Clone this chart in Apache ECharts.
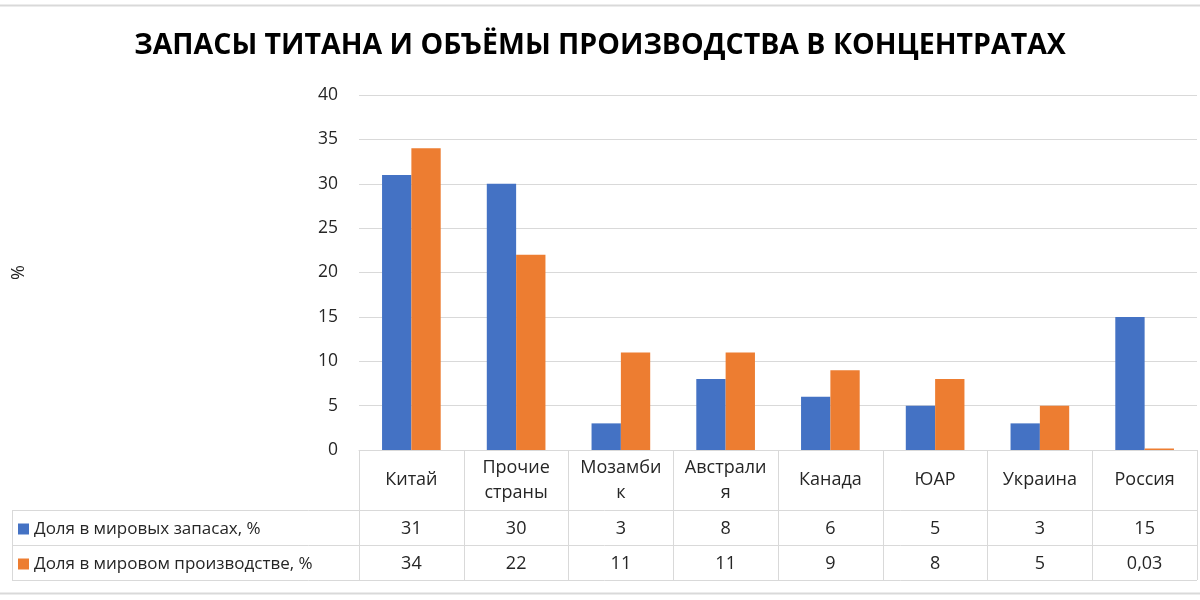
<!DOCTYPE html>
<html>
<head>
<meta charset="utf-8">
<script src="https://cdn.jsdelivr.net/npm/echarts@6/dist/echarts.min.js"></script>
<style>html,body{margin:0;padding:0;background:#fff;}#c{width:1200px;height:600px;}</style>
</head>
<body>
<div id="c"></div>
<script>
const titleText = 'ЗАПАСЫ ТИТАНА И ОБЪЁМЫ ПРОИЗВОДСТВА В КОНЦЕНТРАТАХ';
const categories = ['Китай', 'Прочие страны', 'Мозамбик', 'Австралия', 'Канада', 'ЮАР', 'Украина', 'Россия'];
const seriesNames = ['Доля в мировых запасах, %', 'Доля в мировом производстве, %'];
const reserves = [31, 30, 3, 8, 6, 5, 3, 15];
const production = [34, 22, 11, 11, 9, 8, 5, 0.03];
const yTicks = { min: 0, max: 40, interval: 5 };
const yName = '%';

const FONT = '"Open Sans", sans-serif';
const TXT = '#262626';
const GRIDC = '#d9d9d9';
const CELL_FS = 18;
const fmt = v => String(v).replace('.', ',');

// wrap header text inside a table cell (word wrap, long words broken by characters)
const mctx = document.createElement('canvas').getContext('2d');
mctx.font = CELL_FS + 'px "Open Sans", sans-serif';
const tw = s => mctx.measureText(s).width;
function wrap(s, maxW) {
  const lines = []; let cur = '';
  s.split(' ').forEach(word => {
    const test = cur ? cur + ' ' + word : word;
    if (tw(test) <= maxW) { cur = test; return; }
    if (cur) lines.push(cur);
    let piece = '';
    for (const ch of word) {
      if (piece && tw(piece + ch) > maxW) { lines.push(piece); piece = ch; }
      else piece += ch;
    }
    cur = piece;
  });
  if (cur) lines.push(cur);
  return lines.join('\n');
}

const chart = echarts.init(document.getElementById('c'));
const gridLeft = 359, gridRight = 3, gridTop = 95, gridBottom = 150;

const rowAxis = (data, margin) => ({
  type: 'category', data: data.map(fmt), position: 'bottom', gridIndex: 0,
  axisLine: { show: false }, axisTick: { show: false }, splitLine: { show: false },
  axisLabel: { interval: 0, margin: margin, verticalAlign: 'middle', fontSize: CELL_FS, fontFamily: FONT, color: TXT }
});

chart.setOption({
  animation: false,
  backgroundColor: '#fff',
  title: {
    text: titleText, left: 'center', top: 26,
    textStyle: { fontSize: 28.5, fontWeight: 'bold', fontFamily: FONT, color: '#000' }
  },
  legend: {
    orient: 'vertical', left: 18, top: 519, padding: 0, itemWidth: 11, itemHeight: 11, itemGap: 15,
    icon: 'rect', selectedMode: false,
    textStyle: { fontSize: 17, fontFamily: FONT, color: TXT, lineHeight: 20, padding: [0, 0, 0, 0] },
    data: seriesNames
  },
  grid: { left: gridLeft, right: gridRight, top: gridTop, bottom: gridBottom, containLabel: false },
  xAxis: [
    {
      type: 'category', data: categories, position: 'bottom',
      axisLine: { show: true, lineStyle: { color: GRIDC, width: 1 } },
      axisTick: { show: true, length: 130, interval: 0, lineStyle: { color: GRIDC, width: 1 } },
      axisLabel: {
        interval: 0, margin: 30, verticalAlign: 'middle', fontSize: CELL_FS, fontFamily: FONT, color: TXT,
        lineHeight: 25, align: 'center', formatter: v => wrap(v, 83)
      }
    },
    rowAxis(reserves, 79),
    rowAxis(production, 114)
  ],
  yAxis: {
    type: 'value', min: yTicks.min, max: yTicks.max, interval: yTicks.interval,
    name: yName, nameLocation: 'middle', nameGap: 331, nameRotate: 90,
    nameTextStyle: { fontSize: 18, fontFamily: FONT, color: TXT },
    axisLine: { show: false }, axisTick: { show: false },
    axisLabel: { fontSize: 17.5, fontFamily: FONT, color: TXT, margin: 21 },
    splitLine: { lineStyle: { color: GRIDC, width: 1 } }
  },
  series: [
    { name: seriesNames[0], type: 'bar', data: reserves, xAxisIndex: 0, itemStyle: { color: '#4472C4' }, barGap: '0%', barCategoryGap: '44%' },
    { name: seriesNames[1], type: 'bar', data: production, xAxisIndex: 0, itemStyle: { color: '#ED7D31' }, barGap: '0%', barCategoryGap: '44%', barMinHeight: 1.5 }
  ],
  graphic: [
    { type: 'line', shape: { x1: 0, y1: 5.5, x2: 1200, y2: 5.5 }, style: { stroke: GRIDC, lineWidth: 2 }, silent: true },
    { type: 'line', shape: { x1: 0, y1: 593.5, x2: 1200, y2: 593.5 }, style: { stroke: GRIDC, lineWidth: 2 }, silent: true },
    { type: 'line', shape: { x1: 12, y1: 510.5, x2: 1197, y2: 510.5 }, style: { stroke: GRIDC, lineWidth: 1 }, silent: true },
    { type: 'line', shape: { x1: 12, y1: 545.5, x2: 1197, y2: 545.5 }, style: { stroke: GRIDC, lineWidth: 1 }, silent: true },
    { type: 'line', shape: { x1: 12, y1: 580.5, x2: 1197, y2: 580.5 }, style: { stroke: GRIDC, lineWidth: 1 }, silent: true },
    { type: 'line', shape: { x1: 12.5, y1: 510, x2: 12.5, y2: 581 }, style: { stroke: GRIDC, lineWidth: 1 }, silent: true }
  ]
});
</script>
</body>
</html>
